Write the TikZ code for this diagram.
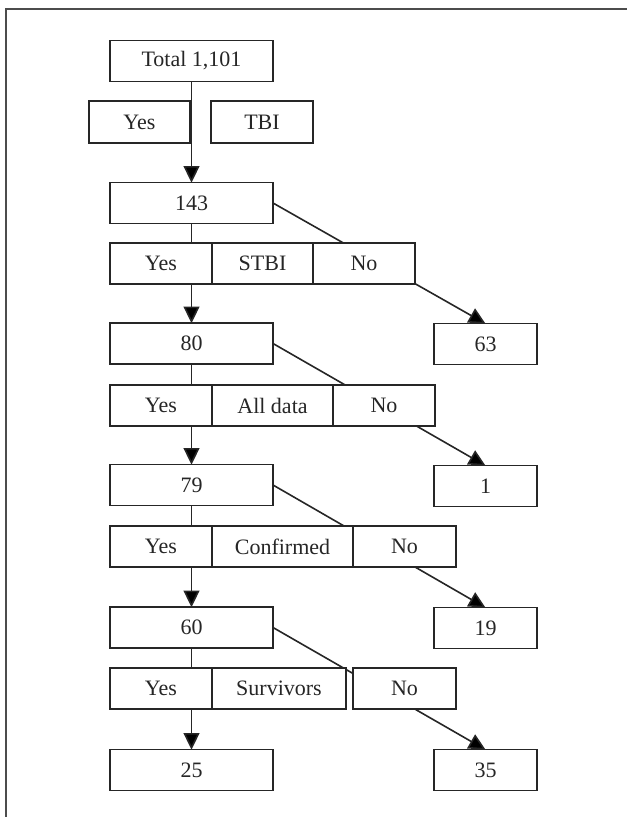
\documentclass[tikz,border=0pt]{standalone}
\usepackage{fontspec}
\setmainfont{Liberation Serif}
\usetikzlibrary{arrows.meta,positioning,backgrounds}

\begin{document}
\begin{tikzpicture}[
        x=0.75pt, y=-0.75pt, % one unit per pixel, counted downwards
        color=black!85, line width=1.2pt,
        font=\fontsize{16.5}{19}\selectfont,
        box/.style = {draw, fill=white, inner sep=0pt, outer sep=0pt, minimum width=122.25pt, minimum height=30.5pt}, % stage boxes
        cell/.style = {draw, fill=white, inner sep=0pt, outer sep=0pt, minimum width=76.5pt, minimum height=31pt}, % question cells
        result/.style = {box, minimum width=77.25pt}, % excluded counts
        link/.style = {draw=black!85, line width=1.2pt, -{Triangle[width=12pt,length=12.5pt]}},
    ]
    \useasboundingbox (0,0) rectangle (627,817);
    \draw[line width=1.5pt, black!70] (627,9) -- (6,9) -- (6,817);

    \node[box] (total) at (191.5,61) {Total 1,101};
    \node[cell, minimum width=75.75pt, minimum height=31.5pt] (yes0) at (139.5,122) {Yes};
    \node[cell, minimum height=31.5pt, right=15.75pt of yes0] (tbi) {TBI};

    \node[box] (n143) at (191.5,203) {143};
    \node[cell] (yes1) at (161,263.5) {Yes};
    \node[cell, minimum width=75.75pt, right=0pt of yes1] (stbi) {STBI};
    \node[cell, right=0pt of stbi] (no1) {No};
    \node[result] (n63) at (485.5,344) {63};

    \node[box] (n80) at (191.5,343.5) {80};
    \node[cell] (yes2) at (161,405.5) {Yes};
    \node[cell, minimum width=90.75pt, right=0pt of yes2] (alldata) {All data};
    \node[cell, right=0pt of alldata] (no2) {No};
    \node[result] (n1) at (485.5,486) {1};

    \node[box] (n79) at (191.5,485) {79};
    \node[cell] (yes3) at (161,546.5) {Yes};
    \node[cell, minimum width=105.75pt, right=0pt of yes3] (confirmed) {Confirmed};
    \node[cell, minimum width=77.25pt, right=0pt of confirmed] (no3) {No};
    \node[result] (n19) at (485.5,628) {19};

    \node[box] (n60) at (191.5,627.5) {60};
    \node[cell] (yes4) at (161,688.5) {Yes};
    \node[cell, minimum width=100.5pt, right=0pt of yes4] (survivors) {Survivors};
    \node[cell, minimum width=77.25pt, right=5.25pt of survivors] (no4) {No};
    \node[box] (n25) at (191.5,770) {25};
    \node[result] (n35) at (485.5,770) {35};

    \begin{scope}[on background layer]
        \draw[link] (total) -- (n143);
        \draw[link] (n143) -- (n80);
        \draw[link] (n80) -- (n79);
        \draw[link] (n79) -- (n60);
        \draw[link] (n60) -- (n25);
        \draw[link] (n143.east) -- (n63.north);
        \draw[link] (n80.east) -- (n1.north);
        \draw[link] (n79.east) -- (n19.north);
        \draw[link] (n60.east) -- (n35.north);
    \end{scope}
\end{tikzpicture}
\end{document}
